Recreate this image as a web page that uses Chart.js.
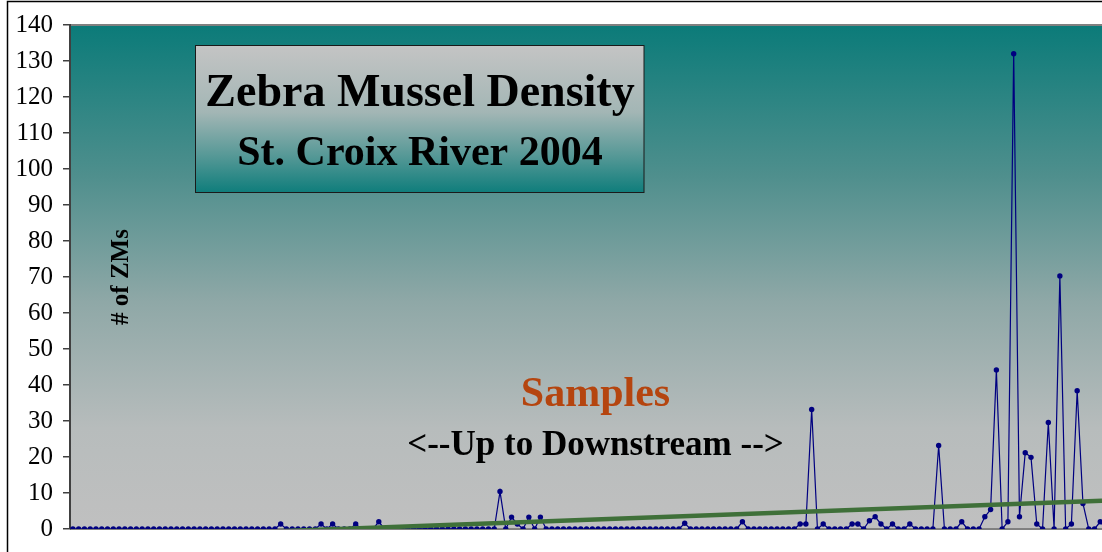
<!DOCTYPE html>
<html>
<head>
<meta charset="utf-8">
<title>Zebra Mussel Density - St. Croix River 2004</title>
<script src="https://cdn.jsdelivr.net/npm/chart.js"></script>
<style>
  html, body { margin: 0; padding: 0; background: #ffffff; overflow: hidden; }
  #wrap { width: 1102px; height: 552px; }
</style>
</head>
<body>
<div id="wrap"><canvas id="myChart" width="1102" height="552"></canvas></div>
<script>
// # of ZMs per sample, upstream (left) to downstream (right)
var zms = [
  0, 0, 0, 0, 0, 0, 0, 0, 0, 0,   0, 0, 0, 0, 0, 0, 0, 0, 0, 0,
  0, 0, 0, 0, 0, 0, 0, 0, 0, 0,   0, 0, 0, 0, 0, 0, 1.4, 0, 0, 0,
  0, 0, 0, 1.4, 0, 1.4, 0, 0, 0, 1.4,   0, 0, 0, 2, 0, 0, 0, 0, 0, 0,
  0, 0, 0, 0, 0, 0, 0, 0, 0, 0,   0, 0, 0, 0, 10.4, 0, 3.3, 1.4, 0, 3.3,
  0, 3.3, 0, 0, 0, 0, 0, 0, 0, 0,   0, 0, 0, 0, 0, 0, 0, 0, 0, 0,
  0, 0, 0, 0, 0, 0, 1.6, 0, 0, 0,   0, 0, 0, 0, 0, 0, 2, 0, 0, 0,
  0, 0, 0, 0, 0, 0, 1.4, 1.4, 33.2, 0,   1.4, 0, 0, 0, 0, 1.4, 1.4, 0, 2.3, 3.4,
  1.4, 0, 1.4, 0, 0, 1.4, 0, 0, 0, 0,   23.2, 0, 0, 0, 2, 0, 0, 0, 3.4, 5.4,
  44.2, 0, 2, 132, 3.4, 21.2, 19.9, 1.4, 0, 29.6,   0, 70.3, 0, 1.4, 38.4, 7.1, 0, 0, 2, 0
];
// linear trend line, value at the left and right edge of the plot
var trendStart = -2.76;
var trendEnd = 7.86;
var yTicks = [0, 10, 20, 30, 40, 50, 60, 70, 80, 90, 100, 110, 120, 130, 140];

var xMin = -0.5;
var xMax = 178.3;   // the picture is cut off on the right

var serif = "'Liberation Serif', 'Times New Roman', serif";

var points = [];
for (var i = 0; i < zms.length; i++) {
  points.push({x: i, y: zms[i]});
}

// backdrop: outer frame + plot area gradient
var backPlugin = {
  id: 'back',
  beforeDraw: function(chart) {
    var c = chart.ctx, a = chart.chartArea;
    c.save();
    c.fillStyle = '#ffffff';
    c.fillRect(0, 0, chart.width, chart.height);
    c.strokeStyle = '#000000';
    c.lineWidth = 1.5;
    c.strokeRect(7.5, 1.5, 3000, 3000);

    var g = c.createLinearGradient(0, a.top, 0, a.bottom);
    g.addColorStop(0, '#0b7b79');
    g.addColorStop(0.3, '#4f8f8d');
    g.addColorStop(0.55, '#8fa8a7');
    g.addColorStop(0.8, '#b7bcbc');
    g.addColorStop(1, '#c0c0c0');
    c.fillStyle = g;
    c.fillRect(a.left, a.top, a.right - a.left, a.bottom - a.top);

    c.strokeStyle = '#808080';
    c.lineWidth = 2;
    c.beginPath();
    c.moveTo(a.left, a.top); c.lineTo(a.right, a.top);
    c.moveTo(a.left, a.bottom); c.lineTo(a.right, a.bottom);
    c.stroke();
    c.restore();
  }
};

// title box and the free texts
var textPlugin = {
  id: 'texts',
  afterDraw: function(chart) {
    var c = chart.ctx;
    c.save();
    var g = c.createLinearGradient(0, 46, 0, 193);
    g.addColorStop(0, '#c4c4c4');
    g.addColorStop(0.45, '#a3b6b5');
    g.addColorStop(0.75, '#559896');
    g.addColorStop(1, '#0e7d7b');
    c.fillStyle = g;
    c.fillRect(195.5, 45.5, 448.5, 147);
    c.strokeStyle = '#1a1a1a';
    c.lineWidth = 1;
    c.strokeRect(195.5, 45.5, 448.5, 147);

    c.textAlign = 'center';
    c.textBaseline = 'alphabetic';
    c.fillStyle = '#000000';
    c.font = 'bold 46px ' + serif;
    c.fillText('Zebra Mussel Density', 420, 106);
    c.font = 'bold 42px ' + serif;
    c.fillText('St. Croix River 2004', 420, 165);

    c.fillStyle = '#b5450f';
    c.font = 'bold 42px ' + serif;
    c.fillText('Samples', 595.5, 406);
    c.fillStyle = '#000000';
    c.font = 'bold 35px ' + serif;
    c.fillText('<--Up to Downstream -->', 595.5, 455);

    c.translate(122, 277);
    c.rotate(-Math.PI / 2);
    c.textBaseline = 'middle';
    c.font = 'bold 25px ' + serif;
    c.fillText('# of ZMs', 0, 0);
    c.restore();
  }
};

new Chart(document.getElementById('myChart'), {
  type: 'line',
  data: {
    datasets: [{
      label: 'Trend',
      data: [{x: xMin, y: trendStart}, {x: xMax, y: trendEnd}],
      borderColor: '#3f7039',
      borderWidth: 4.5,
      pointRadius: 0
    }, {
      label: '# of ZMs',
      data: points,
      borderColor: '#000080',
      borderWidth: 1.2,
      pointRadius: 2.7,
      pointBackgroundColor: '#000080',
      pointBorderWidth: 0,
      tension: 0
    }]
  },
  options: {
    responsive: false,
    animation: false,
    events: [],
    layout: { autoPadding: false, padding: { top: 25, bottom: 23, left: 0, right: 0 } },
    plugins: {
      legend: { display: false },
      tooltip: { enabled: false }
    },
    scales: {
      x: {
        type: 'linear',
        min: xMin,
        max: xMax,
        display: false
      },
      y: {
        min: 0,
        max: 140,
        afterBuildTicks: function(scale) {
          scale.ticks = yTicks.map(function(v) { return {value: v}; });
        },
        afterFit: function(scale) {
          scale.width = 70;
          scale.paddingTop = 0;
          scale.paddingBottom = 0;
        },
        grid: {
          drawOnChartArea: false,
          drawTicks: true,
          tickLength: 7,
          color: '#404040',
          lineWidth: 1.5
        },
        border: { display: true, color: '#404040', width: 2 },
        ticks: {
          color: '#000000',
          padding: 10,
          font: { family: serif, size: 25 }
        }
      }
    }
  },
  plugins: [backPlugin, textPlugin]
});
</script>
</body>
</html>
